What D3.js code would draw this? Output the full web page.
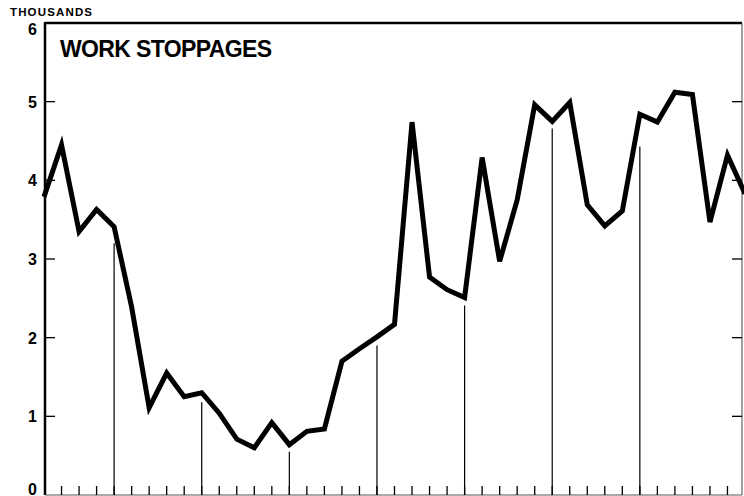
<!DOCTYPE html>
<html>
<head>
<meta charset="utf-8">
<script src="https://cdn.jsdelivr.net/npm/d3@7"></script>
<style>
  body { margin: 0; background: #fff; }
  text { font-family: "Liberation Sans", Arial, sans-serif; font-weight: bold; fill: #000; }
</style>
</head>
<body>
<div id="chart"></div>
<script>
// work stoppages per year, thousands
const years = d3.range(1916, 1957);
const stoppages = [3.79, 4.45, 3.35, 3.63, 3.41, 2.39, 1.11, 1.55, 1.25, 1.30,
  1.04, 0.71, 0.60, 0.92, 0.64, 0.81, 0.84, 1.70, 1.86, 2.01,
  2.17, 4.74, 2.77, 2.61, 2.51, 4.29, 2.97, 3.75, 4.96, 4.75,
  4.99, 3.69, 3.42, 3.61, 4.84, 4.74, 5.12, 5.09, 3.47, 4.32, 3.83];
// thin marker lines at every fifth year, with the height they reach
const markerYears = [1920, 1925, 1930, 1935, 1940, 1945, 1950];
const markerTops = [3.2, 1.18, 0.55, 1.9, 2.41, 4.66, 4.43];
const yTicks = [0, 1, 2, 3, 4, 5, 6];

const svgWidth = 744, svgHeight = 496;
const plotLeft = 45, plotRight = 742, plotTop = 23, plotBottom = 495;

let svg = d3.select("#chart").append("svg")
  .attr("width", svgWidth)
  .attr("height", svgHeight);

let x = d3.scaleLinear().domain([1916, 1956]).range([44, 745]);
let y = d3.scaleLinear().domain([0, 6]).range([plotBottom, plotTop]);

// frame
svg.append("line").attr("x1", plotLeft).attr("x2", plotRight).attr("y1", plotTop).attr("y2", plotTop)
  .attr("stroke", "#000").attr("stroke-width", 2.5);
svg.append("line").attr("x1", plotLeft).attr("x2", plotLeft).attr("y1", plotTop - 1).attr("y2", plotBottom)
  .attr("stroke", "#000").attr("stroke-width", 2.5);
svg.append("line").attr("x1", plotRight).attr("x2", plotRight).attr("y1", plotTop).attr("y2", plotBottom)
  .attr("stroke", "#444").attr("stroke-width", 1);
svg.append("line").attr("x1", plotLeft).attr("x2", plotRight).attr("y1", plotBottom).attr("y2", plotBottom)
  .attr("stroke", "#555").attr("stroke-width", 1.2);

// y ticks, left and right, pointing inward
svg.selectAll(".ltick").data(yTicks.slice(1, 6)).join("line")
  .attr("x1", plotLeft).attr("x2", plotLeft + 10)
  .attr("y1", d => y(d)).attr("y2", d => y(d))
  .attr("stroke", "#000").attr("stroke-width", 1.3);
svg.selectAll(".rtick").data(yTicks.slice(1, 6)).join("line")
  .attr("x1", plotRight - 10).attr("x2", plotRight)
  .attr("y1", d => y(d)).attr("y2", d => y(d))
  .attr("stroke", "#000").attr("stroke-width", 1.3);

// 6 sits a bit under the top rule, 0 is pushed up to stay on the page
svg.selectAll(".ylab").data(yTicks).join("text")
  .attr("x", 37)
  .attr("y", d => d === 6 ? y(d) + 12 : d === 0 ? y(d) - 0.5 : y(d) + 6)
  .attr("text-anchor", "end")
  .attr("font-size", 16)
  .text(d => d);

// year ticks along the bottom
svg.selectAll(".xtick").data(years.slice(1, -1)).join("line")
  .attr("x1", d => x(d)).attr("x2", d => x(d))
  .attr("y1", plotBottom).attr("y2", plotBottom - 9)
  .attr("stroke", "#000").attr("stroke-width", 1.3);

// marker lines
svg.selectAll(".marker").data(markerYears).join("line")
  .attr("x1", d => x(d)).attr("x2", d => x(d))
  .attr("y1", plotBottom).attr("y2", (d, i) => y(markerTops[i]))
  .attr("stroke", "#000").attr("stroke-width", 1.2);

// the series
let line = d3.line().x((d, i) => x(years[i])).y(d => y(d));
svg.append("path")
  .datum(stoppages)
  .attr("d", line)
  .attr("fill", "none")
  .attr("stroke", "#000")
  .attr("stroke-width", 5)
  .attr("stroke-linejoin", "miter");

// labels
svg.append("text").attr("x", 10).attr("y", 16).attr("font-size", 11.5)
  .attr("textLength", 82).text("THOUSANDS");
svg.append("text").attr("x", 60).attr("y", 57).attr("font-size", 23)
  .attr("textLength", 212).text("WORK STOPPAGES");
</script>
</body>
</html>
